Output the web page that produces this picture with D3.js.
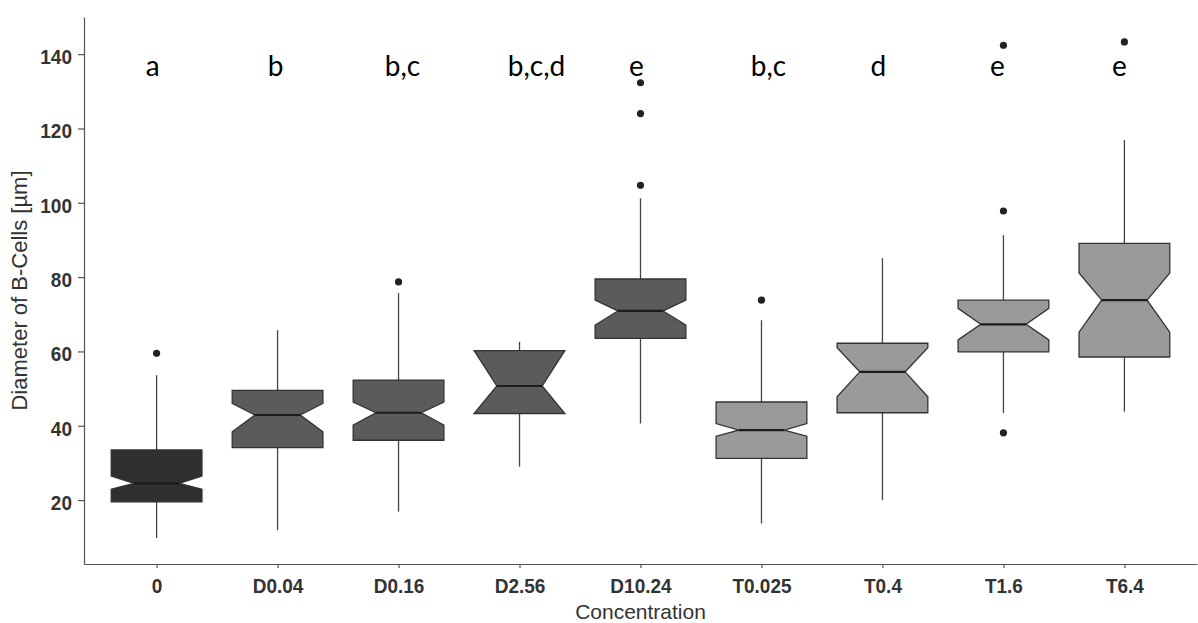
<!DOCTYPE html>
<html>
<head>
<meta charset="utf-8">
<script src="https://cdn.jsdelivr.net/npm/d3@7"></script>
<style>
  html, body { margin: 0; padding: 0; background: #fff; }
  svg { display: block; }
</style>
</head>
<body>
<svg id="chart" width="1198" height="623"></svg>
<script>
// Concentration groups and their notched box-plot statistics (µm)
const categories  = ["0", "D0.04", "D0.16", "D2.56", "D10.24", "T0.025", "T0.4", "T1.6", "T6.4"];
const treatment   = ["control", "D", "D", "D", "D", "T", "T", "T", "T"];
const whiskerLow  = [9.8, 11.9, 16.9, 29.0, 40.6, 13.7, 20.0, 43.4, 43.8];
const q1          = [19.5, 34.1, 36.1, 43.3, 63.5, 31.2, 43.5, 59.9, 58.5];
const notchLow    = [22.9, 38.4, 40.2, 43.3, 67.1, 37.2, 47.8, 63.1, 65.2];
const medians     = [24.5, 42.9, 43.5, 50.7, 70.9, 38.8, 54.5, 67.3, 73.8];
const notchHigh   = [26.5, 46.0, 46.4, 60.2, 73.8, 40.6, 61.0, 71.6, 81.1];
const q3          = [33.5, 49.5, 52.3, 60.2, 79.5, 46.4, 62.2, 73.8, 89.1];
const whiskerHigh = [53.6, 65.7, 75.7, 62.6, 101.2, 68.4, 85.1, 91.3, 116.9];
const outliers    = [[59.5], [], [78.7], [], [104.7, 124.0, 132.3], [73.8], [], [38.1, 97.8, 142.4], [143.3]];

// Significance letters (groups sharing a letter do not differ)
const sigLetters  = ["a", "b", "b,c", "b,c,d", "e", "b,c", "d", "e", "e"];
const sigLevel    = 134;

const yTicks = [20, 40, 60, 80, 100, 120, 140];

// Layout
const plot = { left: 84, right: 1197, top: 17, bottom: 564 };
const letterNudge = [-4, -2, 4, 17, -4, 7, -4, -6, -5];
const fills = { control: "#2f2f2f", D: "#5b5b5b", T: "#9a9a9a" };

const svg = d3.select("#chart");

const x = d3.scalePoint()
  .domain(categories)
  .range([plot.left, plot.right])
  .padding(0.6);

const y = d3.scaleLinear()
  .domain([2.8, 150])
  .range([plot.bottom, plot.top]);

const boxW = x.step() * 0.75;
const indent = boxW * 0.25;

const rows = categories.map((c, i) => ({
  cat: c, group: treatment[i],
  wl: whiskerLow[i], q1: q1[i], nl: notchLow[i], med: medians[i],
  nh: notchHigh[i], q3: q3[i], wh: whiskerHigh[i], out: outliers[i],
  letter: sigLetters[i], nudge: letterNudge[i]
}));

// Axes
const axisColor = "#555";
const yAxis = svg.append("g")
  .attr("transform", `translate(${plot.left},0)`)
  .call(d3.axisLeft(y).tickValues(yTicks).tickSize(6).tickSizeOuter(0).tickPadding(6));
yAxis.select(".domain").attr("stroke", axisColor).attr("stroke-width", 1.2);
yAxis.selectAll(".tick line").attr("stroke", axisColor).attr("stroke-width", 1.2);
yAxis.selectAll(".tick text")
  .attr("font-family", "Liberation Sans, Arial, sans-serif")
  .attr("font-size", 19)
  .attr("font-weight", "bold")
  .attr("fill", "#333")
  .attr("dy", null)
  .attr("y", 8.4)
  .attr("transform", "scale(1,1.1)");

const xAxis = svg.append("g")
  .attr("transform", `translate(0,${plot.bottom})`)
  .call(d3.axisBottom(x).tickSize(4).tickSizeOuter(0));
xAxis.select(".domain").attr("stroke", axisColor).attr("stroke-width", 1.2);
xAxis.selectAll(".tick line").attr("stroke", axisColor).attr("stroke-width", 1.2);
xAxis.selectAll(".tick text")
  .attr("font-family", "Liberation Sans, Arial, sans-serif")
  .attr("font-size", 19)
  .attr("font-weight", "bold")
  .attr("fill", "#333")
  .attr("dy", null)
  .attr("y", 26.5)
  .attr("transform", "scale(1,1.1)");

// Axis titles
svg.append("text")
  .attr("x", (plot.left + plot.right) / 2)
  .attr("y", 619)
  .attr("text-anchor", "middle")
  .attr("font-family", "Liberation Sans, Arial, sans-serif")
  .attr("font-size", 21)
  .attr("fill", "#333")
  .text("Concentration");

svg.append("text")
  .attr("transform", `translate(27,${(plot.top + plot.bottom) / 2}) rotate(-90)`)
  .attr("text-anchor", "middle")
  .attr("font-family", "Liberation Sans, Arial, sans-serif")
  .attr("font-size", 22)
  .attr("fill", "#333")
  .text("Diameter of B-Cells [µm]");

// Boxes
const box = svg.append("g").selectAll("g")
  .data(rows)
  .join("g");

// whiskers
box.append("line")
  .attr("x1", d => x(d.cat)).attr("x2", d => x(d.cat))
  .attr("y1", d => y(d.q3)).attr("y2", d => y(d.wh))
  .attr("stroke", "#444").attr("stroke-width", 1.3);
box.append("line")
  .attr("x1", d => x(d.cat)).attr("x2", d => x(d.cat))
  .attr("y1", d => y(d.q1)).attr("y2", d => y(d.wl))
  .attr("stroke", "#444").attr("stroke-width", 1.3);

// notched body
box.append("path")
  .attr("d", d => {
    const cx = x(d.cat), xl = cx - boxW / 2, xr = cx + boxW / 2;
    const pts = [
      [xl, y(d.q1)], [xl, y(d.nl)], [xl + indent, y(d.med)], [xl, y(d.nh)], [xl, y(d.q3)],
      [xr, y(d.q3)], [xr, y(d.nh)], [xr - indent, y(d.med)], [xr, y(d.nl)], [xr, y(d.q1)]
    ];
    return d3.line()(pts) + "Z";
  })
  .attr("fill", d => fills[d.group])
  .attr("stroke", "#333")
  .attr("stroke-width", 1.3)
  .attr("stroke-linejoin", "miter");

// median
box.append("line")
  .attr("x1", d => x(d.cat) - boxW / 2 + indent)
  .attr("x2", d => x(d.cat) + boxW / 2 - indent)
  .attr("y1", d => y(d.med)).attr("y2", d => y(d.med))
  .attr("stroke", "#1c1c1c").attr("stroke-width", 2.2);

// outliers
box.selectAll("circle")
  .data(d => d.out.map(v => ({ cat: d.cat, v })))
  .join("circle")
  .attr("cx", d => x(d.cat))
  .attr("cy", d => y(d.v))
  .attr("r", 3.6)
  .attr("fill", "#222");

// significance letters
svg.append("g").selectAll("text")
  .data(rows)
  .join("text")
  .attr("x", d => x(d.cat) + d.nudge)
  .attr("y", y(sigLevel))
  .attr("text-anchor", "middle")
  .attr("font-family", "Lato, 'Open Sans', sans-serif")
  .attr("font-size", 28)
  .attr("fill", "#000")
  .text(d => d.letter);
</script>
</body>
</html>
